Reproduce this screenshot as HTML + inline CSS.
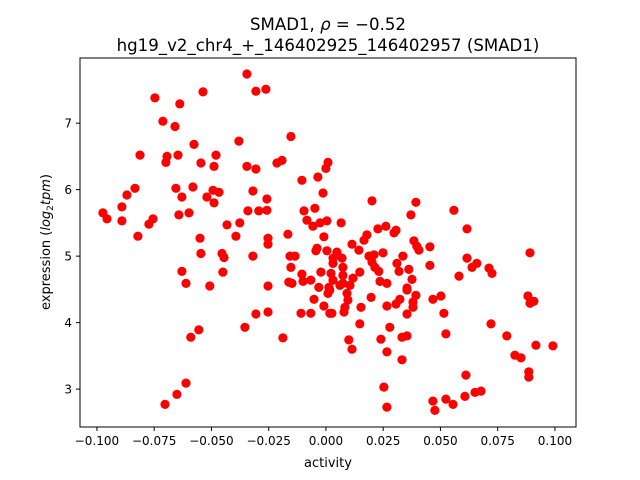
<!DOCTYPE html>
<html><head><meta charset="utf-8"><style>
body{margin:0;background:#fff;width:640px;height:480px;overflow:hidden}
svg{display:block;font-family:"DejaVu Sans","Liberation Sans",sans-serif}
</style></head><body>
<svg id="chart" width="640" height="480" viewBox="0 0 640 480" xmlns="http://www.w3.org/2000/svg">
<text x="328" y="30" font-size="16.6" text-anchor="middle">SMAD1, <tspan font-style="italic">ρ</tspan> = −0.52</text>
<text x="328" y="51" font-size="16.6" text-anchor="middle">hg19_v2_chr4_+_146402925_146402957 (SMAD1)</text>
<g id="points"></g>
<g id="axes"></g>
<text x="328" y="467" font-size="13" text-anchor="middle">activity</text>
<text transform="translate(50,242) rotate(-90)" font-size="13" text-anchor="middle">expression (<tspan font-style="italic">log</tspan><tspan font-size="9" dy="3">2</tspan><tspan dy="-3" font-style="italic">tpm</tspan>)</text>
</svg>
<script>
const activity = [-0.0345,-0.0306,-0.0262,-0.0747,-0.0537,-0.0638,-0.0712,-0.0659,-0.0153,-0.0380,-0.0576,-0.0812,-0.0694,-0.0699,-0.0646,-0.0546,-0.0480,-0.0489,-0.0345,-0.0306,-0.0214,-0.0192,0.0009,0.0,-0.0105,-0.0035,-0.0834,-0.0869,-0.0655,-0.0581,-0.0629,-0.0520,-0.0493,-0.0467,-0.0489,-0.0319,-0.0258,-0.0013,-0.0891,-0.0974,-0.0956,-0.0891,-0.0755,-0.0773,-0.0642,-0.0598,-0.0341,-0.0293,-0.0258,-0.0096,-0.0048,-0.0083,-0.0057,-0.0026,0.0004,-0.0821,-0.0550,-0.0432,-0.0376,-0.0393,-0.0253,-0.0253,-0.0166,-0.0009,-0.0039,
-0.0546,-0.0454,-0.0445,-0.0319,-0.0629,-0.0611,-0.0507,-0.0450,-0.0253,-0.0157,-0.0135,-0.0153,-0.0044,0.0004,-0.0105,-0.0100,-0.0066,-0.0162,-0.0148,-0.0022,-0.0031,0.0009,-0.0052,-0.0009,-0.0109,-0.0066,-0.0306,-0.0253,-0.0354,-0.0555,-0.0590,-0.0188,-0.0611,-0.0651,-0.0703,0.0017,
0.0201,0.0393,0.0066,0.0371,0.0559,0.0616,0.0227,0.0262,0.0306,0.0297,0.0179,0.0166,0.0114,0.0144,0.0384,0.0406,0.0397,0.0454,0.0048,0.0031,0.0070,0.0188,0.0210,0.0249,0.0336,0.0310,0.0362,0.0319,0.0201,0.0214,0.0231,0.0454,0.0616,0.0659,0.0638,0.0712,0.0725,0.0891,0.0581,0.0022,0.0031,0.0074,0.0074,0.0031,0.0118,0.0148,0.0105,0.0236,0.0266,0.0376,0.0354,0.0013,0.0061,
0.0074,0.0017,0.0092,0.0096,0.0083,0.0079,0.0026,0.0153,0.0197,0.0266,0.0306,0.0323,0.0354,0.0393,0.0380,0.0380,0.0354,0.0467,0.0502,0.0515,0.0148,0.0279,0.0524,0.0100,0.0114,0.0240,0.0266,0.0332,0.0354,0.0332,0.0721,0.0790,0.0825,0.0852,0.0917,0.0991,0.0882,0.0891,0.0908,0.0611,0.0886,0.0886,0.0253,0.0266,0.0467,0.0476,0.0524,0.0555,0.0607,0.0651,0.0677];
const expression = [7.74,7.48,7.51,7.38,7.47,7.29,7.03,6.95,6.80,6.73,6.68,6.52,6.50,6.41,6.52,6.40,6.52,6.35,6.35,6.31,6.40,6.44,6.41,6.32,6.14,6.19,6.02,5.92,6.02,6.04,5.89,5.89,5.99,5.96,5.80,5.98,5.86,5.95,5.74,5.65,5.56,5.53,5.56,5.48,5.62,5.65,5.68,5.68,5.69,5.68,5.72,5.54,5.45,5.50,5.53,5.30,5.27,5.47,5.50,5.30,5.27,5.18,5.33,5.29,5.12,
5.04,5.04,4.98,5.00,4.77,4.59,4.55,4.76,4.55,5.00,5.00,4.83,5.08,5.08,4.73,4.62,4.64,4.61,4.59,4.76,4.53,4.44,4.35,4.25,4.14,4.14,4.13,4.16,3.93,3.89,3.78,3.77,3.09,2.92,2.77,4.14,
5.83,5.81,5.50,5.62,5.69,5.41,5.41,5.45,5.39,5.35,5.32,5.24,5.18,5.09,5.23,5.09,5.15,5.14,5.06,4.97,4.97,5.00,5.02,5.05,5.00,4.89,4.80,4.77,4.91,4.83,4.77,4.86,4.97,4.89,4.83,4.82,4.74,5.05,4.70,4.74,4.89,4.83,4.71,4.64,4.67,4.76,4.56,4.62,4.59,4.65,4.52,4.53,4.56,
4.59,4.49,4.44,4.34,4.23,4.16,4.14,4.23,4.38,4.25,4.28,4.35,4.49,4.41,4.31,4.23,4.13,4.35,4.40,4.14,3.98,3.93,3.83,3.74,3.60,3.75,3.56,3.78,3.80,3.44,3.98,3.80,3.51,3.47,3.66,3.65,4.40,4.29,4.32,3.21,3.26,3.18,3.03,2.73,2.82,2.68,2.85,2.77,2.89,2.95,2.97];
const xTicks = [-0.100,-0.075,-0.050,-0.025,0.000,0.025,0.050,0.075,0.100];
const xTickLabels = ["−0.100","−0.075","−0.050","−0.025","0.000","0.025","0.050","0.075","0.100"];
const yTicks = [3,4,5,6,7];
const yTickLabels = ["3","4","5","6","7"];

const L=80,R=576,T=58,B=427;
const xMin=-0.1074,xMax=0.1092,yMin=2.43,yMax=7.98;
const sx=v=>L+(v-xMin)/(xMax-xMin)*(R-L);
const sy=v=>B-(v-yMin)/(yMax-yMin)*(B-T);
const NS="http://www.w3.org/2000/svg";
const pg=document.getElementById('points');
for(let i=0;i<activity.length;i++){
  const c=document.createElementNS(NS,'circle');
  c.setAttribute('cx',sx(activity[i]).toFixed(1));
  c.setAttribute('cy',sy(expression[i]).toFixed(1));
  c.setAttribute('r','4.6');
  c.setAttribute('fill','#ff0000');
  
  
  pg.appendChild(c);
}
const ag=document.getElementById('axes');
const fr=document.createElementNS(NS,'rect');
fr.setAttribute('x',L);fr.setAttribute('y',T);fr.setAttribute('width',R-L);fr.setAttribute('height',B-T);
fr.setAttribute('fill','none');fr.setAttribute('stroke','#000');fr.setAttribute('stroke-width','1');


ag.appendChild(fr);
xTicks.forEach((v,i)=>{
  const x=sx(v);
  const l=document.createElementNS(NS,'line');
  l.setAttribute('x1',x);l.setAttribute('x2',x);l.setAttribute('y1',B);l.setAttribute('y2',B+4);l.setAttribute('stroke','#000');
  
  
  ag.appendChild(l);
  const t=document.createElementNS(NS,'text');
  t.setAttribute('x',x);t.setAttribute('y',B+18);t.setAttribute('font-size','12');t.setAttribute('text-anchor','middle');
  t.textContent=xTickLabels[i];
  
  
  ag.appendChild(t);
});
yTicks.forEach((v,i)=>{
  const y=sy(v);
  const l=document.createElementNS(NS,'line');
  l.setAttribute('x1',L-4);l.setAttribute('x2',L);l.setAttribute('y1',y);l.setAttribute('y2',y);l.setAttribute('stroke','#000');
  
  
  ag.appendChild(l);
  const t=document.createElementNS(NS,'text');
  t.setAttribute('x',L-8);t.setAttribute('y',y+4.5);t.setAttribute('font-size','12');t.setAttribute('text-anchor','end');
  t.textContent=yTickLabels[i];
  
  
  ag.appendChild(t);
});
</script>
</body></html>
